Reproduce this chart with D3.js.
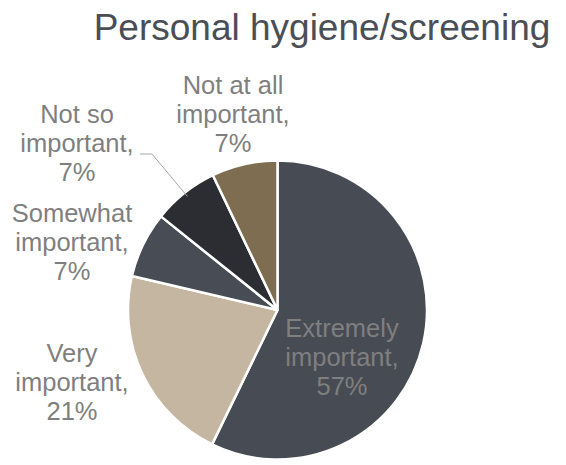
<!DOCTYPE html>
<html>
<head>
<meta charset="utf-8">
<script src="https://cdn.jsdelivr.net/npm/d3@7"></script>
<style>
  html, body { margin: 0; padding: 0; background: #fff; }
  svg text { font-family: "Liberation Sans", Arial, sans-serif; }
</style>
</head>
<body>
<div id="chart"></div>
<script>
// Data
const title = "Personal hygiene/screening";
const categories = ["Extremely important", "Very important", "Somewhat important", "Not so important", "Not at all important"];
const shares = [57.1, 21.4, 7.1, 7.1, 7.1];
const colors = ["#474b54", "#c4b6a1", "#484c55", "#2c2d32", "#7f6d51"];

// label text is split over lines the way the chart shows it
const labelLines = [
    ["Extremely", "important,"],
    ["Very", "important,"],
    ["Somewhat", "important,"],
    ["Not so", "important,"],
    ["Not at all", "important,"]
];

const width = 566, height = 465;
const cx = 277.5, cy = 310, radius = 149.5;

const svg = d3.select("#chart")
    .append("svg")
    .attr("width", width)
    .attr("height", height);

svg.append("text")
    .attr("x", 322)
    .attr("y", 40)
    .attr("text-anchor", "middle")
    .attr("font-size", 37)
    .attr("fill", "#4a4e56")
    .text(title);

const pie = d3.pie().sort(null).value(d => d);
const arcs = pie(shares);
const arc = d3.arc().innerRadius(0).outerRadius(radius);

const g = svg.append("g").attr("transform", `translate(${cx},${cy})`);

g.selectAll("path")
    .data(arcs)
    .enter()
    .append("path")
    .attr("d", arc)
    .attr("fill", (d, i) => colors[i])
    .attr("stroke", "#fff")
    .attr("stroke-width", 2.5)
    .attr("stroke-linejoin", "round");

// label anchors (centre x, first baseline) placed like the original
const labelPos = [
    { x: 342, y: 337 },
    { x: 72, y: 362 },
    { x: 72, y: 222 },
    { x: 77, y: 123 },
    { x: 233, y: 94 }
];
const lineGap = 29;

// leader line for "Not so important"
const mid = arcs[3];
const a = (mid.startAngle + mid.endAngle) / 2;
const tip = [cx + Math.sin(a) * radius * 0.97, cy - Math.cos(a) * radius * 0.97];
svg.append("polyline")
    .attr("points", [[140, 154], [152, 154], tip].map(p => p.join(",")).join(" "))
    .attr("fill", "none")
    .attr("stroke", "#a6a6a6")
    .attr("stroke-width", 1);

arcs.forEach((d, i) => {
    const lines = labelLines[i].concat([Math.round(shares[i]) + "%"]);
    const t = svg.append("text")
        .attr("text-anchor", "middle")
        .attr("font-size", 25.5)
        .attr("fill", "#7f7f7f");
    lines.forEach((s, k) => {
        t.append("tspan")
            .attr("x", labelPos[i].x)
            .attr("y", labelPos[i].y + k * lineGap)
            .text(s);
    });
});
</script>
</body>
</html>
